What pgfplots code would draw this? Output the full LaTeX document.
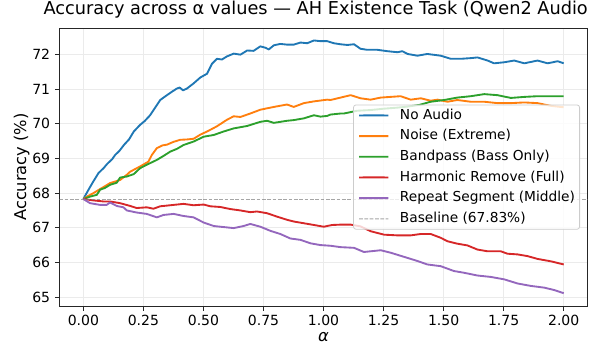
\documentclass[border=0pt]{standalone}
\usepackage{fontspec}
\setmainfont{DejaVu Sans}
\usepackage{pgfplots}
\pgfplotsset{compat=1.18}
\definecolor{mplblue}{HTML}{1F77B4}
\definecolor{mplorange}{HTML}{FF7F0E}
\definecolor{mplgreen}{HTML}{2CA02C}
\definecolor{mplred}{HTML}{D62728}
\definecolor{mplpurple}{HTML}{9467BD}
\pgfplotsset{
  mpl/.style={line width=1.4pt, line join=round},
}
\begin{document}
\begin{tikzpicture}
\begin{axis}[
  scale only axis,
  width=396.3pt, height=208.5pt,
  xmin=-0.1, xmax=2.1, ymin=64.74, ymax=72.77,
  xtick={0,0.25,0.5,0.75,1,1.25,1.5,1.75,2},
  ytick={65,66,67,68,69,70,71,72},
  xticklabel style={/pgf/number format/.cd, fixed, fixed zerofill, precision=2},
  /pgf/number format/assume math mode=true,
  tick label style={font=\fontsize{10.5}{12}\selectfont, text=black},
  tick align=outside, tick pos=left,
  major tick length=3.4pt,
  tick style={black!85, line width=0.6pt},
  axis line style={black!85, line width=0.7pt},
  grid=major,
  grid style={line width=0.6pt, gray!16},
  title={Accuracy across α values — AH Existence Task (Qwen2 Audio},
  title style={at={(axis description cs:0,1)}, anchor=base west, xshift=-12pt, yshift=4.2pt, font=\fontsize{13.3}{15}\selectfont, inner sep=0pt},
  xlabel={\textit{α}},
  xlabel style={at={(axis description cs:0.5,-0.1132)}, anchor=center, font=\fontsize{12.2}{14}\selectfont, inner sep=0pt},
  ylabel={Accuracy (\%)},
  ylabel style={at={(axis description cs:-0.0712,0.5)}, anchor=center, rotate=0, font=\fontsize{12.2}{14}\selectfont, inner sep=0pt},
  legend image code/.code={\draw[#1] (0pt,0pt) -- (11pt,0.02pt) -- (22pt,0pt);},
  legend cell align=left,
  legend style={at={(0.9854,0.7248)}, anchor=north east, draw=black!20, line width=0.6pt, rounded corners=2pt, fill=white, fill opacity=0.8, draw opacity=1, text opacity=1, inner xsep=3.5pt, inner ysep=3pt, row sep=5.7pt, font=\fontsize{10.3}{12}\selectfont, nodes={inner xsep=0pt, inner ysep=0pt, text height=7.6pt, text depth=2.2pt}, /tikz/every odd column/.append style={column sep=8pt}},
]
\addplot[mplblue, mpl] coordinates {(0,67.83) (0.02,68.08) (0.04,68.32) (0.063,68.58) (0.084,68.72) (0.10,68.85) (0.12,68.98) (0.132,69.10) (0.15,69.22) (0.17,69.40) (0.19,69.55) (0.21,69.78) (0.236,69.97) (0.255,70.08) (0.278,70.25) (0.30,70.48) (0.32,70.69) (0.348,70.83) (0.369,70.93) (0.389,71.02) (0.401,71.05) (0.415,70.97) (0.431,71.02) (0.459,71.17) (0.487,71.34) (0.515,71.45) (0.536,71.74) (0.556,71.88) (0.577,71.86) (0.598,71.95) (0.626,72.03) (0.654,72.00) (0.682,72.12) (0.709,72.11) (0.737,72.24) (0.758,72.20) (0.772,72.15) (0.793,72.27) (0.82,72.31) (0.848,72.29) (0.876,72.29) (0.904,72.35) (0.932,72.33) (0.96,72.41) (0.987,72.39) (1.015,72.39) (1.043,72.33) (1.071,72.30) (1.099,72.28) (1.127,72.30) (1.154,72.17) (1.182,72.14) (1.224,72.14) (1.266,72.10) (1.308,72.07) (1.328,72.10) (1.35,72.02) (1.391,71.97) (1.432,72.02) (1.488,71.97) (1.53,71.88) (1.571,71.88) (1.613,71.90) (1.641,71.92) (1.683,71.83) (1.71,71.75) (1.752,71.78) (1.794,71.83) (1.836,71.75) (1.891,71.83) (1.933,71.75) (1.975,71.81) (2.0,71.75)};
\addlegendentry{No Audio}
\addplot[mplorange, mpl] coordinates {(0,67.83) (0.02,67.92) (0.042,68.0) (0.07,68.12) (0.09,68.2) (0.111,68.29) (0.153,68.38) (0.181,68.53) (0.195,68.62) (0.236,68.77) (0.271,68.91) (0.285,69.1) (0.306,69.30) (0.33,69.38) (0.348,69.40) (0.375,69.48) (0.403,69.54) (0.43,69.55) (0.459,69.57) (0.487,69.69) (0.515,69.78) (0.556,69.93) (0.598,70.12) (0.626,70.22) (0.654,70.20) (0.695,70.30) (0.737,70.41) (0.793,70.49) (0.848,70.56) (0.876,70.49) (0.918,70.60) (0.96,70.65) (1.015,70.70) (1.029,70.69) (1.071,70.76) (1.113,70.83) (1.154,70.74) (1.196,70.70) (1.238,70.76) (1.279,70.78) (1.321,70.80) (1.363,70.70) (1.405,70.74) (1.446,70.67) (1.474,70.70) (1.516,70.64) (1.557,70.69) (1.613,70.64) (1.669,70.64) (1.724,70.60) (1.78,70.60) (1.836,70.62) (1.891,70.60) (1.947,70.52) (2.0,70.48)};
\addlegendentry{Noise (Extreme)}
\addplot[mplgreen, mpl] coordinates {(0,67.83) (0.028,67.9) (0.056,67.95) (0.07,68.1) (0.09,68.15) (0.111,68.24) (0.139,68.3) (0.153,68.45) (0.181,68.48) (0.21,68.55) (0.236,68.72) (0.264,68.82) (0.306,68.96) (0.335,69.08) (0.362,69.20) (0.39,69.28) (0.417,69.39) (0.459,69.49) (0.501,69.63) (0.543,69.68) (0.584,69.78) (0.626,69.87) (0.682,69.94) (0.737,70.06) (0.765,70.09) (0.793,70.03) (0.848,70.09) (0.876,70.11) (0.918,70.16) (0.96,70.25) (0.987,70.21) (1.015,70.23) (1.029,70.27) (1.071,70.30) (1.085,70.30) (1.14,70.38) (1.196,70.40) (1.252,70.44) (1.308,70.47) (1.35,70.50) (1.40,70.55) (1.446,70.64) (1.502,70.69) (1.557,70.76) (1.613,70.80) (1.669,70.86) (1.724,70.83) (1.78,70.75) (1.836,70.78) (1.891,70.80) (1.947,70.80) (2.0,70.80)};
\addlegendentry{Bandpass (Bass Only)}
\addplot[mplred, mpl] coordinates {(0,67.83) (0.042,67.79) (0.083,67.76) (0.111,67.76) (0.153,67.71) (0.195,67.63) (0.222,67.57) (0.264,67.59) (0.292,67.55) (0.32,67.62) (0.362,67.65) (0.417,67.69) (0.459,67.65) (0.501,67.67) (0.529,67.62) (0.57,67.60) (0.612,67.54) (0.654,67.50) (0.695,67.45) (0.723,67.47) (0.765,67.42) (0.807,67.32) (0.848,67.23) (0.876,67.18) (0.918,67.13) (0.96,67.08) (1.001,67.03) (1.036,67.08) (1.071,67.09) (1.113,67.09) (1.154,67.04) (1.196,66.90) (1.252,66.80) (1.308,66.78) (1.363,66.78) (1.405,66.82) (1.446,66.82) (1.488,66.71) (1.516,66.61) (1.557,66.54) (1.599,66.49) (1.641,66.37) (1.683,66.32) (1.738,66.32) (1.766,66.25) (1.808,66.23) (1.85,66.18) (1.891,66.10) (1.947,66.03) (2.0,65.94)};
\addlegendentry{Harmonic Remove (Full)}
\addplot[mplpurple, mpl] coordinates {(0,67.83) (0.028,67.71) (0.07,67.66) (0.097,67.66) (0.111,67.73) (0.139,67.63) (0.167,67.59) (0.181,67.50) (0.222,67.44) (0.264,67.40) (0.306,67.30) (0.334,67.37) (0.376,67.40) (0.417,67.34) (0.459,67.30) (0.501,67.15) (0.543,67.05) (0.584,67.02) (0.626,66.99) (0.667,67.05) (0.695,67.11) (0.737,67.03) (0.779,66.91) (0.82,66.82) (0.862,66.69) (0.904,66.65) (0.946,66.55) (0.987,66.50) (1.029,66.48) (1.071,66.44) (1.127,66.42) (1.168,66.30) (1.238,66.35) (1.279,66.28) (1.335,66.16) (1.391,66.04) (1.432,65.94) (1.488,65.89) (1.543,65.75) (1.585,65.70) (1.641,65.62) (1.696,65.58) (1.752,65.51) (1.808,65.39) (1.863,65.32) (1.919,65.27) (1.961,65.20) (2.0,65.11)};
\addlegendentry{Repeat Segment (Middle)}
\addplot[gray, opacity=0.7, line width=0.75pt, dash pattern=on 2.8pt off 1.2pt] coordinates {(-0.1,67.83) (2.1,67.83)};
\addlegendentry{Baseline (67.83\%)}
\end{axis}
\pgfresetboundingbox
\path (-44.5pt,-29.25pt) rectangle (411.5pt,229.5pt);
\end{tikzpicture}
\end{document}
